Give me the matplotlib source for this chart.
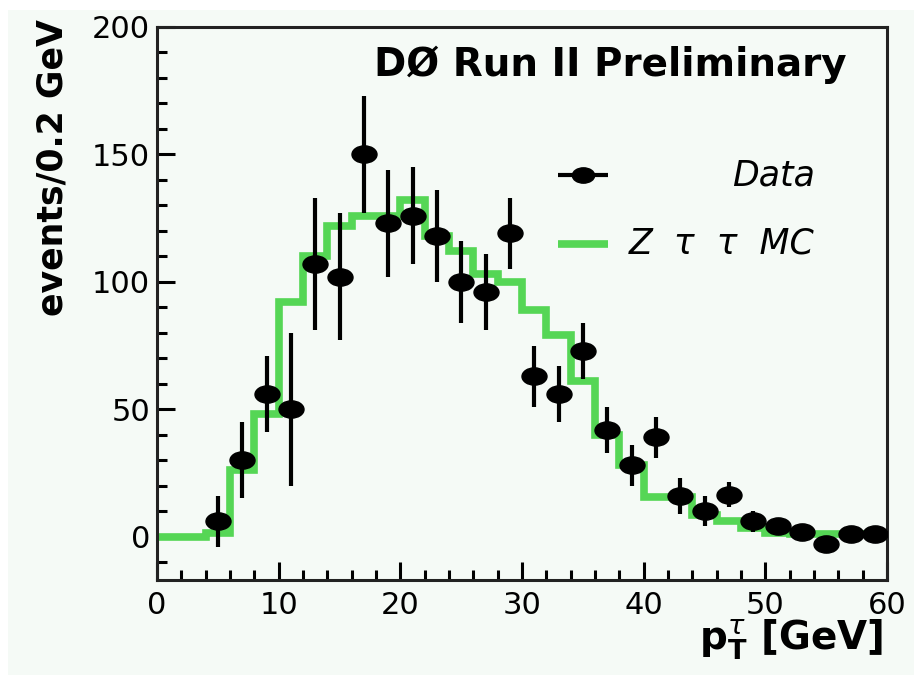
import numpy as np
import matplotlib
matplotlib.use("Agg")
import matplotlib.pyplot as plt
from matplotlib.path import Path
from matplotlib.patches import Rectangle
from matplotlib.transforms import Affine2D
from matplotlib.ticker import MultipleLocator

plt.rcParams['font.family'] = ['DejaVu Sans']
plt.rcParams['mathtext.fontset'] = 'dejavusans'

# Data: tau pT spectrum (bin centres, counts, statistical errors)
data_x = [5, 7, 9, 11, 13, 15, 17, 19, 21, 23, 25, 27, 29, 31,
          33, 35, 37, 39, 41, 43, 45, 47, 49, 51, 53, 55, 57, 59]
data_y = [6, 30, 56, 50, 107, 102, 150, 123, 126, 118, 100, 96, 119, 63,
          56, 73, 42, 28, 39, 16, 10, 16.5, 6, 4, 2, -3, 1, 1]
data_err = [10, 15, 15, 30, 26, 25, 23, 21, 19, 18, 16, 15, 14, 12,
            11, 11, 9, 8, 8, 7, 6, 5, 4, 3, 2, 2, 2, 2]

# Z -> tau tau Monte Carlo prediction (2 GeV bins from 0 to 60 GeV)
mc_edges = list(range(0, 62, 2))
mc_counts = [0, 0, 1.5, 26, 48, 92, 110, 122, 126, 126, 132, 118, 112, 103, 100,
             89, 79, 61, 40, 28, 15.5, 15.5, 8.5, 6, 3.5, 1.6, 1, 1, 1, 1]

bg = '#f5faf6'
green = '#55d655'

fig = plt.figure(figsize=(9.14, 6.75), dpi=100, facecolor='white')
fig.patches.append(Rectangle((8 / 914, 0), 1, 1 - 10 / 675, transform=fig.transFigure,
                             facecolor=bg, edgecolor='none', zorder=-10))
ax = fig.add_axes([157 / 914, 1 - 580 / 675, (887 - 157) / 914, (580 - 27) / 675])
ax.set_facecolor(bg)

# wide elliptical marker
ell = Path.unit_circle().transformed(Affine2D().scale(1.45, 1.0))

ax.stairs(mc_counts, mc_edges, color=green, lw=5.5, baseline=None, zorder=2)
ax.errorbar(data_x, data_y, yerr=data_err, fmt='none', ecolor='black',
            elinewidth=3, capsize=0, zorder=3)
ax.plot(data_x, data_y, linestyle='none', marker=ell, markersize=18,
        color='black', zorder=4)

ax.set_xlim(0, 60)
ax.set_ylim(-17, 200)

ax.xaxis.set_major_locator(MultipleLocator(10))
ax.xaxis.set_minor_locator(MultipleLocator(2))
ax.yaxis.set_major_locator(MultipleLocator(50))
ax.yaxis.set_minor_locator(MultipleLocator(10))
ax.tick_params(which='both', direction='in', top=False, right=False,
               width=2.2, labelsize=22, color='black')
ax.tick_params(which='major', length=13)
ax.tick_params(which='minor', length=7)
ax.tick_params(axis='x', pad=8)
ax.tick_params(axis='y', pad=5)
for s in ax.spines.values():
    s.set_linewidth(2.2)
    s.set_color('#222222')

ax.set_ylabel('events/0.2 GeV', fontsize=25, fontweight='bold')
ax.yaxis.set_label_coords(-0.12, 0.745)
ax.set_xlabel(r'$\mathbf{p}_{\mathbf{T}}^{\tau}$ [GeV]', fontsize=28, fontweight='bold')
ax.xaxis.set_label_coords(0.995, -0.068)
ax.xaxis.label.set_horizontalalignment('right')
ax.xaxis.label.set_verticalalignment('top')

ax.text(0.945, 0.931, 'DØ Run II Preliminary', transform=ax.transAxes,
        ha='right', va='center', fontsize=28, fontweight='bold')

# legend drawn by hand
ax.plot([0.549, 0.618], [0.732, 0.732], transform=ax.transAxes, color='black', lw=3,
        solid_capstyle='butt', clip_on=False)
ax.plot([0.5835], [0.732], transform=ax.transAxes, marker=ell, markersize=16,
        color='black', linestyle='none')
ax.text(0.901, 0.732, 'Data', transform=ax.transAxes, ha='right', va='center',
        fontsize=25, fontstyle='italic')
ax.plot([0.549, 0.618], [0.608, 0.608], transform=ax.transAxes, color=green, lw=5.5,
        solid_capstyle='butt')
ax.text(0.901, 0.608, 'Z  τ  τ  MC', transform=ax.transAxes, ha='right', va='center',
        fontsize=25, fontstyle='italic')

fig.savefig('out.png', dpi=100, facecolor='white')
